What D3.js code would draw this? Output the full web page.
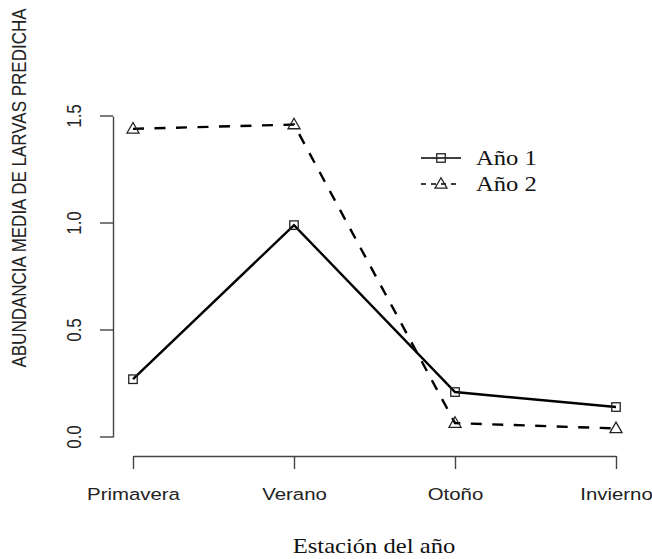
<!DOCTYPE html>
<html>
<head>
<meta charset="utf-8">
<script src="https://cdn.jsdelivr.net/npm/d3@7/dist/d3.min.js"></script>
<style>
  html, body { margin: 0; padding: 0; background: #fff; }
  svg { display: block; }
</style>
</head>
<body>
<svg id="chart" width="652" height="559"></svg>
<script>
// Seasons along the x axis
const seasons = ["Primavera", "Verano", "Otoño", "Invierno"];
// Predicted mean larval abundance per season
const year1 = [0.27, 0.99, 0.21, 0.14];
const year2 = [1.44, 1.46, 0.065, 0.04];
const seriesNames = ["Año 1", "Año 2"];
const yTicks = [0, 0.5, 1.0, 1.5];

const svg = d3.select("#chart");
const sans = "'Liberation Sans', Arial, sans-serif";
const serif = "'Liberation Serif', 'Times New Roman', serif";
const axisColor = "#444";
const sx = 1.2; // glyphs are drawn slightly wide

const x = d3.scalePoint().domain(seasons).range([133, 616]);
const y = d3.scaleLinear().domain([0, 1.5]).range([437, 116]);

// y axis (line spans first to last tick, labels rotated)
const yAxis = svg.append("g")
  .attr("transform", "translate(113,0)")
  .call(d3.axisLeft(y).tickValues(yTicks).tickSize(13).tickSizeOuter(0)
    .tickFormat(d3.format(".1f")));
yAxis.selectAll("path, line").attr("stroke", axisColor).attr("stroke-width", 1.4);
yAxis.selectAll(".tick").attr("transform", null);
yAxis.selectAll(".tick line").attr("y1", d => y(d)).attr("y2", d => y(d));
yAxis.selectAll("text")
  .attr("font-family", sans).attr("font-size", 17).attr("fill", "#222")
  .attr("x", 0).attr("y", 0).attr("dy", 0)
  .attr("text-anchor", "middle")
  .attr("transform", d => `translate(-32,${y(d)}) scale(${sx},1) rotate(-90)`);

// x axis
const xAxis = svg.append("g")
  .attr("transform", "translate(0,456)")
  .call(d3.axisBottom(x).tickSize(13).tickSizeOuter(0));
xAxis.selectAll("path, line").attr("stroke", axisColor).attr("stroke-width", 1.4);
xAxis.selectAll("text")
  .attr("font-family", sans).attr("font-size", 17).attr("fill", "#222")
  .attr("y", 0).attr("dy", "0.35em")
  .attr("transform", `translate(0,38) scale(${sx},1)`);

// axis titles
svg.append("text")
  .attr("transform", `translate(26,188) scale(${sx},1) rotate(-90)`)
  .attr("text-anchor", "middle")
  .attr("font-family", sans).attr("font-size", 17).attr("fill", "#222")
  .text("ABUNDANCIA MEDIA DE LARVAS PREDICHA");

svg.append("text")
  .attr("transform", `translate(374,553) scale(${sx},1)`)
  .attr("text-anchor", "middle")
  .attr("font-family", serif).attr("font-size", 20.5).attr("fill", "#111")
  .text("Estación del año");

// lines
const line = d3.line().x((d, i) => x(seasons[i])).y(d => y(d));

svg.append("path").datum(year1)
  .attr("d", line).attr("fill", "none")
  .attr("stroke", "#000").attr("stroke-width", 2.4);

svg.append("path").datum(year2)
  .attr("d", line).attr("fill", "none")
  .attr("stroke", "#000").attr("stroke-width", 2.4)
  .attr("stroke-dasharray", "11,10.5");

// markers
const sq = 8.5;
function square(g, cx, cy) {
  g.append("rect")
    .attr("x", cx - sq / 2).attr("y", cy - sq / 2)
    .attr("width", sq).attr("height", sq)
    .attr("fill", "none")
    .attr("stroke", "#222").attr("stroke-width", 1.3);
}
function triangle(g, cx, cy) {
  const h = 10.5, w = 12;
  g.append("path")
    .attr("d", `M${cx},${cy - h * 0.6} L${cx + w / 2},${cy + h * 0.4} L${cx - w / 2},${cy + h * 0.4} Z`)
    .attr("fill", "none")
    .attr("stroke", "#222").attr("stroke-width", 1.3);
}

const marks = svg.append("g");
year1.forEach((v, i) => square(marks, x(seasons[i]), y(v)));
year2.forEach((v, i) => triangle(marks, x(seasons[i]), y(v)));

// legend
const legend = svg.append("g");
const lx0 = 421, lx1 = 461, ly = [158, 184];
legend.append("line").attr("x1", lx0).attr("x2", lx1).attr("y1", ly[0]).attr("y2", ly[0])
  .attr("stroke", "#000").attr("stroke-width", 1.3);
square(legend, (lx0 + lx1) / 2, ly[0]);
legend.append("line").attr("x1", lx0).attr("x2", lx1).attr("y1", ly[1]).attr("y2", ly[1])
  .attr("stroke", "#000").attr("stroke-width", 1.3).attr("stroke-dasharray", "5,5");
triangle(legend, (lx0 + lx1) / 2, ly[1]);
seriesNames.forEach((name, i) => {
  legend.append("text")
    .attr("transform", `translate(476,${ly[i]}) scale(${sx},1)`)
    .attr("dy", "0.35em")
    .attr("font-family", serif).attr("font-size", 20.5).attr("fill", "#111")
    .text(name);
});
</script>
</body>
</html>
